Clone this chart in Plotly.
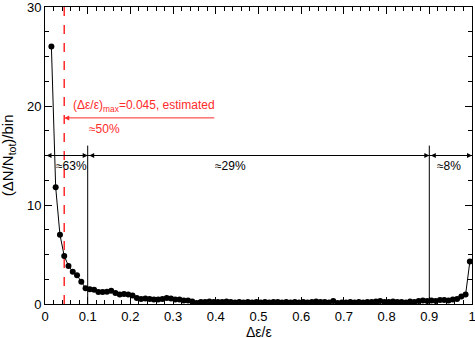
import numpy as np
import plotly.graph_objects as go

# histogram of relative energy loss, 0.01 wide bins
bin_centers = np.round(np.arange(0.015, 1.0, 0.01), 3)
counts = [
    26.0, 11.8, 7.0, 4.85, 3.85, 3.25, 2.9, 2.25, 1.6, 1.5,
    1.45, 1.2, 1.2, 1.25, 1.35, 1.1, 0.95, 1.0, 0.95, 0.85,
    0.6, 0.5, 0.55, 0.5, 0.45, 0.45, 0.5, 0.6, 0.55, 0.45,
    0.45, 0.35, 0.35, 0.25, 0.1, 0.2, 0.2, 0.25, 0.2, 0.2,
    0.2, 0.25, 0.2, 0.15, 0.2, 0.15, 0.2, 0.15, 0.2, 0.15,
    0.2, 0.15, 0.2, 0.2, 0.15, 0.2, 0.15, 0.2, 0.15, 0.2,
    0.15, 0.2, 0.25, 0.2, 0.2, 0.15, 0.3, 0.1, 0.15, 0.15,
    0.2, 0.15, 0.2, 0.15, 0.2, 0.2, 0.25, 0.3, 0.2, 0.2,
    0.25, 0.2, 0.2, 0.15, 0.25, 0.2, 0.3, 0.35, 0.3, 0.35,
    0.3, 0.4, 0.4, 0.35, 0.45, 0.5, 0.75, 0.95, 4.3,
]

# region boundaries and their shares
edges = [0.0, 0.1, 0.9, 1.0]
shares = ["≈63%", "≈29%", "≈8%"]
share_x = [0.063, 0.435, 0.945]
arrow_y = 15
eps_max = 0.045

red = "#ff2a2a"

fig = go.Figure()
fig.add_trace(go.Scatter(
    x=bin_centers, y=counts, mode="lines+markers",
    line=dict(color="black", width=1),
    marker=dict(color="black", size=6),
    showlegend=False,
))

# vertical separators
for xe in edges[1:3]:
    fig.add_shape(type="line", x0=xe, x1=xe, y0=0, y1=16,
                  line=dict(color="black", width=1))

# red dashed estimate line
fig.add_shape(type="line", x0=eps_max, x1=eps_max, y0=0, y1=30,
              line=dict(color=red, width=1.5, dash="dash"))

# horizontal baseline of double arrows
fig.add_shape(type="line", x0=0, x1=1, y0=arrow_y, y1=arrow_y,
              line=dict(color="black", width=1))

for a, b in zip(edges[:-1], edges[1:]):
    fig.add_annotation(x=b, y=arrow_y, ax=a, ay=arrow_y,
                       xref="x", yref="y", axref="x", ayref="y",
                       text="", showarrow=True, arrowside="end+start",
                       arrowhead=2, arrowsize=1, arrowwidth=1,
                       arrowcolor="black")

for sx, s in zip(share_x, shares):
    fig.add_annotation(x=sx, y=arrow_y - 0.2, text=s, showarrow=False,
                       yanchor="top", font=dict(size=12, color="black"))

# red arrow and labels
fig.add_annotation(x=eps_max, y=18.8, ax=0.40, ay=18.8,
                   xref="x", yref="y", axref="x", ayref="y",
                   text="", showarrow=True, arrowhead=2, arrowsize=1,
                   arrowwidth=1, arrowcolor=red)
fig.add_annotation(x=0.06, y=19.0, text="(Δε/ε)<sub>max</sub>=0.045, estimated",
                   showarrow=False, xanchor="left", yanchor="bottom",
                   font=dict(size=12, color=red))
fig.add_annotation(x=0.098, y=18.6, text="≈50%",
                   showarrow=False, xanchor="left", yanchor="top",
                   font=dict(size=12, color=red))

# axis titles
fig.add_annotation(x=0.5, y=-0.095, xref="paper", yref="paper",
                   text="Δε/ε", showarrow=False, yanchor="middle",
                   font=dict(size=14, color="black"))
fig.add_annotation(x=-0.085, y=0.5, xref="paper", yref="paper",
                   text="(ΔN/N<sub>tot</sub>)/bin", showarrow=False,
                   textangle=-90, xanchor="center", yanchor="middle",
                   font=dict(size=15, color="black"))

axis_common = dict(
    showline=True, linecolor="black", linewidth=1, mirror="ticks",
    ticks="inside", ticklen=7, tickcolor="black", showgrid=False,
    zeroline=False, tickfont=dict(size=13, color="black"),
    automargin=False, ticklabeloverflow="allow",
)

fig.update_layout(
    width=475, height=338,
    margin=dict(l=45, r=3, t=7, b=34),
    plot_bgcolor="white", paper_bgcolor="white",
    font=dict(family="Liberation Sans, Arial, sans-serif", color="black"),
    xaxis=dict(
        range=[0, 1], tickvals=[0, 0.1, 0.2, 0.3, 0.4, 0.5, 0.6, 0.7, 0.8, 0.9, 1],
        ticktext=["0", "0.1", "0.2", "0.3", "0.4", "0.5", "0.6", "0.7", "0.8", "0.9", "1"],
        minor=dict(dtick=0.02, ticks="inside", ticklen=4, tickcolor="black"),
        **axis_common,
    ),
    yaxis=dict(
        range=[0, 30], tickvals=[0, 10, 20, 30],
        minor=dict(dtick=2.5, ticks="inside", ticklen=4, tickcolor="black"),
        **axis_common,
    ),
)

# drop the default page margin so the figure sits at the window's corner
fig.write_html("out.html", config={"displayModeBar": False},
               post_script="document.body.style.margin='0';")
